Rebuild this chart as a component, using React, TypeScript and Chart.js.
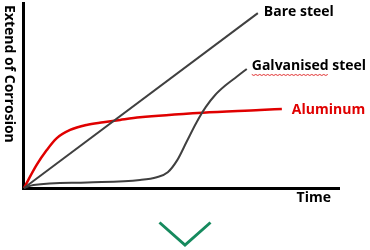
import React, { useEffect, useRef } from "react";
import { Chart, registerables } from "chart.js";

Chart.register(...registerables);

// Time axis units 0..100, corrosion units 0..100 (qualitative sketch)
const bareSteelX = [0, 74];
const bareSteelY = [0, 94];

const galvanisedX = [0, 3, 20, 36.7, 42, 45.5, 48.5, 51.5, 54.5, 57.5, 60.5, 64, 67.3, 70.5];
const galvanisedY = [0, 1.6, 3, 4.3, 5.8, 8.5, 15, 25, 35, 43.5, 50, 55.5, 59.8, 64];

const aluminumX = [0, 4, 7.2, 10.3, 14.6, 19.8, 25.1, 30.4, 36.7, 56.6, 74.7, 81.6];
const aluminumY = [0, 12.4, 20.4, 26.7, 31.2, 33.9, 35.3, 36.6, 38, 40.5, 41.9, 42.5];

const seriesLabels = ["Bare steel", "Galvanised steel", "Aluminum"];
const xTitle = "Time";
const yTitle = "Extend of Corrosion";

const zip = (xs: number[], ys: number[]) => xs.map((x, i) => ({ x, y: ys[i] }));

const FONT = "bold 14px 'Open Sans', 'Noto Sans', sans-serif";

const decorPlugin = {
  id: "decor",
  beforeDatasetsDraw(chart: any) {
    const { ctx, chartArea } = chart;
    const { left, right, top, bottom } = chartArea;
    ctx.save();
    ctx.strokeStyle = "#000";
    ctx.lineWidth = 3;
    ctx.beginPath();
    ctx.moveTo(left - 0.5, top);
    ctx.lineTo(left - 0.5, bottom + 1.5);
    ctx.moveTo(left - 2, bottom + 0.5);
    ctx.lineTo(right, bottom + 0.5);
    ctx.stroke();
    ctx.restore();
  },
  afterDraw(chart: any) {
    const { ctx, chartArea, scales } = chart;
    const xs = scales.x;
    const ys = scales.y;
    ctx.save();
    ctx.font = FONT;
    ctx.textBaseline = "middle";
    ctx.textAlign = "left";

    // series labels near line ends
    const ends = [
      { x: bareSteelX[bareSteelX.length - 1], y: bareSteelY[bareSteelY.length - 1], dx: 6, dy: -1, color: "#000" },
      { x: galvanisedX[galvanisedX.length - 1], y: galvanisedY[galvanisedY.length - 1], dx: 5, dy: -3, color: "#000" },
      { x: aluminumX[aluminumX.length - 1], y: aluminumY[aluminumY.length - 1], dx: 10, dy: 1, color: "#e00000" },
    ];
    ends.forEach((e, i) => {
      const px = xs.getPixelForValue(e.x) + e.dx;
      const py = ys.getPixelForValue(e.y) + e.dy;
      ctx.fillStyle = e.color;
      ctx.fillText(seriesLabels[i], px, py);
      if (i === 1) {
        // spell-check squiggle under "Galvanised"
        const w = ctx.measureText("Galvanised").width;
        ctx.strokeStyle = "#e03030";
        ctx.lineWidth = 1;
        ctx.beginPath();
        for (let k = 0; k <= w; k += 2) {
          const yy = py + 8.5 + (k % 4 === 0 ? 0 : 1);
          if (k === 0) ctx.moveTo(px + k, yy);
          else ctx.lineTo(px + k, yy);
        }
        ctx.stroke();
      }
    });

    // x title
    ctx.fillStyle = "#000";
    ctx.textAlign = "right";
    ctx.fillText(xTitle, chartArea.right - 9, chartArea.bottom + 10);

    // y title rotated, reading top to bottom
    ctx.save();
    ctx.translate(9, chartArea.top + 3);
    ctx.rotate(Math.PI / 2);
    ctx.textAlign = "left";
    ctx.fillText(yTitle, 0, 0);
    ctx.restore();

    // green chevron
    const cx = chart.width / 2;
    ctx.strokeStyle = "#168a5e";
    ctx.lineWidth = 3;
    ctx.lineCap = "butt";
    ctx.beginPath();
    ctx.moveTo(cx - 25.5, 222.5);
    ctx.lineTo(cx, 245);
    ctx.lineTo(cx + 25.5, 222.5);
    ctx.stroke();
    ctx.restore();
  },
};

export default function App() {
  const ref = useRef<HTMLCanvasElement | null>(null);
  useEffect(() => {
    if (!ref.current) return;
    const chart = new Chart(ref.current, {
      type: "line",
      data: {
        datasets: [
          {
            label: seriesLabels[0],
            data: zip(bareSteelX, bareSteelY),
            borderColor: "#404040",
            borderWidth: 2,
            pointRadius: 0,
            tension: 0,
            clip: false as any,
          },
          {
            label: seriesLabels[1],
            data: zip(galvanisedX, galvanisedY),
            borderColor: "#404040",
            borderWidth: 2,
            pointRadius: 0,
            cubicInterpolationMode: "monotone",
            clip: false as any,
          },
          {
            label: seriesLabels[2],
            data: zip(aluminumX, aluminumY),
            borderColor: "#e00000",
            borderWidth: 2.5,
            pointRadius: 0,
            cubicInterpolationMode: "monotone",
            clip: false as any,
          },
        ],
      },
      options: {
        animation: false,
        responsive: false,
        maintainAspectRatio: false,
        layout: { padding: { left: 24, right: 30, top: 2, bottom: 62 } },
        plugins: { legend: { display: false }, tooltip: { enabled: false } },
        scales: {
          x: { type: "linear", min: 0, max: 100, display: false },
          y: { type: "linear", min: 0, max: 100, display: false },
        },
      },
      plugins: [decorPlugin],
    });
    return () => chart.destroy();
  }, []);
  return (
    <div style={{ position: "absolute", left: 0, top: 0, width: 370, height: 250, background: "#fff" }}>
      <canvas ref={ref} width={370} height={250} style={{ width: 370, height: 250 }} />
    </div>
  );
}
